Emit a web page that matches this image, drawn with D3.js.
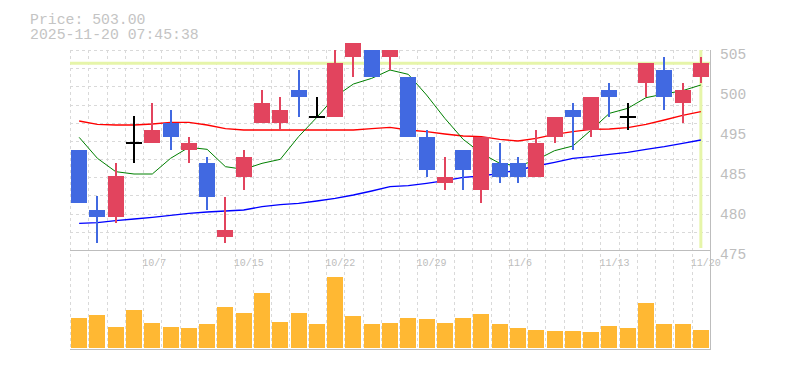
<!DOCTYPE html>
<html>
<head>
<meta charset="utf-8">
<script src="https://cdn.jsdelivr.net/npm/d3@7"></script>
<style>
  body { margin: 0; background: #fff; }
  svg { display: block; }
  text { font-family: "Liberation Mono", "DejaVu Sans Mono", monospace; }
</style>
</head>
<body>
<svg id="chart" width="785" height="370"></svg>
<script>
// trading days, oldest first
const dates = ['10/1','10/2','10/3','10/6','10/7','10/8','10/9','10/10','10/14','10/15',
  '10/16','10/17','10/20','10/21','10/22','10/23','10/24','10/27','10/28','10/29',
  '10/30','10/31','11/4','11/5','11/6','11/7','11/10','11/11','11/12','11/13',
  '11/14','11/17','11/18','11/19','11/20'];
const open  = [490,481,480,491,491,494,490,488,477,486,494,494,499,495,495,504,505,504,501,492,485,490,484,488,488,486,492,496,493,499,495,500,502,497,501];
const close = [482,480,486.1,491,493,492,491,483,478,489,497,496,498,495,503,506.1,501,505,492,487,486,487,492,486,486,491,495,495,498,498,495,503,498,499,503];
const high  = [490,483.1,488,495.1,497.1,496,492,489,483,490,499,498,502,498,505,506.1,505,505,501,493,489,490,492,491,489,493,495,497,498,500,497,503,504,500,504];
const low   = [482,476,479,488,491,490,488,481,476,484,494,493,495,495,495,501,501,502,492,486,484,484,482,485,485,486,491,490,492,495,493,498,496,494,500];
const volume = [30,33,21,38,25,21,20,24,41,35,55,26,35,24,71,32,24,25,30,29,25,30,34,24,20,18,17,17,16,22,20,45,24,24,18];

// moving averages
const maShort = [491.9,488.75,486.75,486.4,486.4,488.75,490.4,490.1,487.5,487.1,488.0,488.6,492.0,494.9,498.0,499.9,500.75,502.0,501.35,498.25,494.75,491.6,489.5,488.0,487.6,488.5,489.9,490.6,493.0,495.5,496.25,497.85,498.4,498.9,499.75];
const maMid   = [494.35,493.85,493.75,493.75,493.9,494.15,494.15,493.75,493.2,493.0,493.0,493.0,493.0,493.0,493.0,493.0,493.2,493.4,493.0,492.75,492.4,492.1,492.0,491.6,491.35,491.75,492.35,492.75,493.1,493.15,493.35,493.85,494.5,495.2,495.75];
const maLong  = [479.0,479.1,479.4,479.65,479.9,480.2,480.5,480.7,480.85,481.0,481.5,481.8,482.0,482.35,482.75,483.25,483.85,484.5,484.65,485.0,485.4,485.9,486.1,486.5,487.0,487.6,488.15,488.75,489.0,489.35,489.65,490.1,490.5,491.0,491.5];

const lastPrice = 503.00;
const stamp = '2025-11-20 07:45:38';
const yTickValues = [505, 499, 493, 487, 481, 475];
const yTickLabels = ['505', '500', '495', '485', '480', '475'];
const xLabelEvery = 5;

const svg = d3.select('#chart');
const pLeft = 70, pRight = 710, pTop = 50, pMid = 250, pBottom = 349;
const gridColor = '#d9d9d9';
const axisColor = '#bdbdbd';
const upColor = '#e2445e', downColor = '#4169e1';

const idx = d3.range(dates.length);
const x = d3.scaleBand().domain(idx).range([pLeft, pRight]).paddingInner(0.125).paddingOuter(0.0625);
const step = x.step();
const cx = i => x(i) + x.bandwidth() / 2;
const y = d3.scaleLinear().domain([475, 505]).range([pMid, pTop]);
const yv = d3.scaleLinear().domain([0, 100]).range([348, 248]);

// grid
const grid = svg.append('g').attr('stroke', gridColor).attr('stroke-dasharray', '3,3').attr('shape-rendering', 'crispEdges');
idx.forEach(i => {
  const gx = Math.round(pLeft + i * step) + 0.5;
  grid.append('line').attr('x1', gx).attr('x2', gx).attr('y1', pTop).attr('y2', pBottom);
});
d3.range(1, 11).forEach(k => {
  const gy = Math.round(y(475 + k * 30 / 11)) + 0.5;
  grid.append('line').attr('x1', pLeft).attr('x2', pRight).attr('y1', gy).attr('y2', gy);
});
grid.append('line').attr('x1', pLeft).attr('x2', pRight).attr('y1', pTop + 0.5).attr('y2', pTop + 0.5);

// frame
const frame = svg.append('g').attr('stroke', axisColor).attr('shape-rendering', 'crispEdges');
frame.append('line').attr('x1', pLeft).attr('x2', pRight + 1).attr('y1', pMid + 0.5).attr('y2', pMid + 0.5);
frame.append('line').attr('x1', pLeft).attr('x2', pRight + 1).attr('y1', pBottom + 0.5).attr('y2', pBottom + 0.5);
frame.append('line').attr('x1', pRight + 0.5).attr('x2', pRight + 0.5).attr('y1', pTop).attr('y2', pBottom + 1);

// current price markers
svg.append('line').attr('x1', pLeft).attr('x2', pRight).attr('y1', y(lastPrice)).attr('y2', y(lastPrice))
  .attr('stroke', '#e6f5a9').attr('stroke-width', 3);
svg.append('line').attr('x1', cx(dates.length - 1)).attr('x2', cx(dates.length - 1)).attr('y1', pTop).attr('y2', pMid - 2)
  .attr('stroke', '#e6f5a9').attr('stroke-width', 3);

// moving averages
const line = d3.line().x((d, i) => cx(i)).y(d => y(d));
[[maLong, '#0000ff', 1.3], [maMid, '#ff0000', 1.3], [maShort, '#008000', 1]].forEach(([data, color, w]) => {
  svg.append('path').datum(data).attr('d', line).attr('fill', 'none')
    .attr('stroke', color).attr('stroke-width', w);
});

// candles
const candles = svg.append('g').attr('shape-rendering', 'crispEdges');
idx.forEach(i => {
  const o = open[i], c = close[i];
  const col = o === c ? '#000' : (c > o ? upColor : downColor);
  const xm = Math.round(cx(i));
  candles.append('rect').attr('x', xm - 1).attr('width', 2)
    .attr('y', y(high[i])).attr('height', y(low[i]) - y(high[i])).attr('fill', col);
  if (o === c) {
    candles.append('rect').attr('x', x(i)).attr('width', x.bandwidth())
      .attr('y', y(o) - 1).attr('height', 2).attr('fill', col);
  } else {
    candles.append('rect').attr('x', x(i)).attr('width', x.bandwidth())
      .attr('y', y(Math.max(o, c))).attr('height', Math.abs(y(o) - y(c))).attr('fill', col);
  }
});

// volume
svg.append('g').attr('shape-rendering', 'crispEdges').selectAll('rect').data(volume).join('rect')
  .attr('x', (d, i) => x(i)).attr('width', x.bandwidth())
  .attr('y', d => yv(d)).attr('height', d => yv(0) - yv(d))
  .attr('fill', '#ffb833');

// price axis labels
svg.append('g').selectAll('text').data(yTickValues).join('text')
  .attr('x', 720).attr('y', d => y(d) + 8.5)
  .attr('fill', '#bdbdbd').style('font-size', '14.5px')
  .text((d, i) => yTickLabels[i]);

// date labels
svg.append('g').selectAll('text').data(idx.filter(i => (dates.length - 1 - i) % xLabelEvery === 0)).join('text')
  .attr('x', i => x(i) - 2).attr('y', 266)
  .attr('fill', '#bdbdbd').style('font-size', '10px')
  .text(i => dates[i]);

// header
svg.append('text').attr('x', 30).attr('y', 23.5).attr('fill', '#c4c4c4').style('font-size', '14.8px')
  .text('Price: ' + lastPrice.toFixed(2));
svg.append('text').attr('x', 30).attr('y', 38.5).attr('fill', '#c4c4c4').style('font-size', '14.8px')
  .text(stamp);
</script>
</body>
</html>
